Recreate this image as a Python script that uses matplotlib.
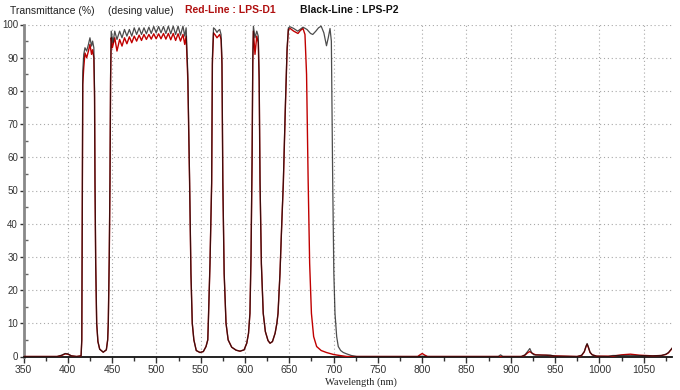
import numpy as np
import matplotlib
matplotlib.use("Agg")
import matplotlib.pyplot as plt
from matplotlib.ticker import MultipleLocator

# (wavelength nm, transmittance %)
black_pts = [
    (350, 0), (388, 0), (393, 0.4), (397, 0.9), (400, 0.8), (404, 0.2), (410, 0), (415, 0.2),
    (415.8, 5), (416.3, 45), (416.9, 86), (418, 91), (419.4, 93), (421.3, 92), (423.3, 94),
    (425, 96), (426.8, 93.5), (428, 95), (429.4, 93), (430.2, 80), (430.7, 53), (431.5, 28),
    (432.6, 10), (434, 4.5), (436, 2.2), (440, 1.3), (443.5, 2), (445, 5), (445.7, 10), (446.8, 30),
    (447.6, 53), (448.3, 85), (449, 98), (451, 94.5), (453, 98), (455.5, 95.5), (458.5, 98),
    (461.2, 96), (464, 98.5), (466.7, 96.5), (469.5, 98.5), (472.2, 96.5), (475, 99),
    (477.7, 97), (480.5, 99), (483.2, 97), (486, 99), (488.7, 97.2), (491.5, 99.2),
    (494.2, 97.3), (497, 99.4), (499.7, 97.5), (502.5, 99.4), (505.2, 97.5), (508, 99.4),
    (510.7, 97.3), (513.5, 99.5), (516.2, 97.2), (519, 99.5), (521.7, 97), (524.5, 99.5),
    (527.2, 96.8), (530, 99.5), (532, 96.5), (533.6, 99), (535.5, 85), (537.5, 53), (539, 25),
    (540.5, 10), (542.3, 5), (545, 1.8), (549.2, 1.2), (553, 1.5), (556, 3), (558, 5),
    (558.6, 10), (560.5, 28), (562.4, 53), (563.2, 90), (564.5, 99), (566.5, 98.5),
    (568.4, 97.6), (570, 98.2), (571.5, 98.5), (573, 97), (574, 90), (575, 53), (576.5, 25),
    (578.6, 10), (581, 5), (585, 2.8), (590, 1.9), (594.4, 1.6), (599, 2), (602, 4), (604, 7),
    (605.6, 13), (606.8, 30), (608, 60), (608.8, 90), (609.5, 99.5), (611.3, 96), (613.3, 98),
    (615, 96.5), (616, 85), (617, 53), (618.5, 28), (620.6, 13), (623, 7.5), (626, 4.8),
    (628.3, 4), (631, 4.5), (634, 7), (636, 10), (637.3, 13), (639.5, 25), (641.5, 40),
    (643.3, 53), (645.5, 75), (647.5, 93), (649, 99), (651, 99.3), (655, 98.8), (659.5, 98),
    (662.5, 98.6), (665.5, 99.2), (670, 98.5), (674, 97.3), (676.5, 97), (680, 98), (683, 99),
    (686, 99.5), (689, 97.5), (692, 93.6), (694, 96), (696, 98.8), (697.5, 95), (699, 53),
    (700.3, 25), (701.6, 13), (703.5, 6), (705.3, 3), (708, 1.8), (711, 1.2), (714.7, 0.8),
    (720, 0.3), (726, 0), (795, 0), (800, 0.1), (805, 0), (886, 0), (888.5, 0.5), (891, 0),
    (912, 0), (916, 0.5), (919, 1.5), (921.5, 2.4), (923.5, 1.2), (926, 0.5), (935, 0.4),
    (945, 0.4), (950, 0.1), (975, 0), (980, 0.4), (983, 1.5), (985, 3.2), (986.2, 3.9),
    (987.5, 3), (989.5, 1.3), (992, 0.5), (997, 0.1), (1010, 0), (1015, 0.3), (1040, 0.3),
    (1060, 0.2), (1070, 0.3), (1075, 0.7), (1078, 1.2), (1082, 2.5),
]

red_pts = [
    (350, 0), (388, 0), (393, 0.3), (397, 0.8), (400, 0.7), (404, 0.2), (410, 0), (415, 0.2),
    (415.8, 5), (416.3, 43), (416.9, 82), (418, 87), (419.4, 91.4), (421.3, 90), (423.3, 92),
    (425, 94), (426.8, 91), (428, 92.4), (429.4, 90), (430.2, 78), (430.7, 52), (431.5, 28),
    (432.6, 10), (434, 4.5), (436, 2.2), (440, 1.3), (443.5, 2), (445, 5), (445.7, 10), (446.8, 30),
    (447.6, 52), (448.3, 83), (449, 96), (450.3, 93), (453, 96), (455.5, 92), (458.5, 95.5),
    (461.2, 93.5), (464, 96), (466.7, 94.2), (469.5, 96.3), (472.2, 94.5), (475, 96.5),
    (477.7, 95), (480.5, 96.8), (483.2, 95.2), (486, 97), (488.7, 95.5), (491.5, 97),
    (494.2, 95.6), (497, 97.2), (499.7, 95.7), (502.5, 97.2), (505.2, 95.7), (508, 97.3),
    (510.7, 95.6), (513.5, 97.3), (516.2, 95.4), (519, 97.3), (521.7, 95.2), (524.5, 97.2),
    (527.2, 95), (530, 97), (532, 94), (533.6, 96.5), (535.5, 83), (537.5, 52), (539, 25),
    (540.5, 10), (542.3, 5), (545, 1.8), (549.2, 1.2), (553, 1.5), (556, 3), (558, 5),
    (558.6, 10), (560.5, 28), (562.4, 52), (563.2, 88), (564.5, 97.5), (566.5, 96.8),
    (568.4, 96), (570, 96.5), (571.5, 97), (573, 95.5), (574, 88), (575, 52), (576.5, 25),
    (578.6, 10), (581, 5), (585, 2.8), (590, 1.9), (594.4, 1.6), (599, 2), (602, 4), (604, 7),
    (605.6, 13), (606.8, 30), (608, 58), (608.8, 88), (609.5, 98), (611.3, 91), (613.3, 96.5),
    (615, 94.5), (616, 83), (617, 52), (618.5, 28), (620.6, 13), (623, 7.5), (626, 4.8),
    (628.3, 4), (631, 4.5), (634, 7), (636, 10), (637.3, 13), (639.5, 25), (641.5, 40),
    (643.3, 52), (645.5, 74), (647.5, 92), (649, 98.5), (651, 98.8), (655, 98), (659.8, 97.3),
    (662.5, 98.2), (665.5, 98.8), (667.7, 97), (669.5, 85), (671.3, 53), (673, 28), (675, 13),
    (677.5, 6), (680.9, 3), (686, 1.8), (692, 1.2), (700, 0.6), (707, 0.3), (715, 0),
    (795, 0), (797, 0.4), (800, 0.9), (803, 0.4), (806, 0), (912, 0), (916, 0.4), (919, 1.1),
    (921.5, 1.5), (924, 1), (928, 0.5), (940, 0.4), (948, 0.2), (975, 0), (980, 0.3),
    (983, 1.4), (985, 3), (986.2, 3.7), (987.5, 2.8), (989.5, 1.2), (992, 0.5), (997, 0.1),
    (1015, 0.1), (1025, 0.5), (1035, 0.7), (1045, 0.4), (1060, 0.2), (1070, 0.3), (1075, 0.6),
    (1078, 1.1), (1082, 2.4),
]

x_ticks = list(range(350, 1051, 50))
y_ticks = list(range(0, 101, 10))

bw, bt = zip(*black_pts)
rw, rt = zip(*red_pts)

plt.rcParams['font.family'] = ['Liberation Sans', 'DejaVu Sans']

fig = plt.figure(figsize=(6.8, 3.9), dpi=100)
ax = fig.add_axes([23.5 / 680, 33.5 / 390, (672 - 23.5) / 680, (356.5 - 24.5) / 390])

ax.plot(rw, rt, color='#c00000', lw=1.0, zorder=3)
ax.plot(bw, bt, color='#111111', lw=0.9, alpha=0.75, zorder=4)

ax.set_xlim(350, 1082)
ax.set_ylim(0, 100)
ax.set_xticks(x_ticks)
ax.set_yticks(y_ticks)
ax.xaxis.set_minor_locator(MultipleLocator(25))
ax.yaxis.set_minor_locator(MultipleLocator(5))
ax.tick_params(axis='x', which='major', labelsize=7.5, length=4, width=1,
               direction='out', colors='#333333', pad=2)
ax.tick_params(axis='y', which='major', labelsize=7, length=3, width=1,
               direction='out', colors='#333333', pad=1)
ax.tick_params(axis='x', which='minor', length=3, width=1, direction='out', color='#333333')
ax.tick_params(axis='y', which='minor', length=3, width=1, direction='in', color='#666666')

ax.grid(True, which='major', color='#a8a8a8', linestyle=(0, (1, 2.5)), lw=0.8)
for s in ['top', 'right']:
    ax.spines[s].set_visible(False)
ax.spines['left'].set_color('#888888')
ax.spines['left'].set_linewidth(2)
ax.spines['bottom'].set_color('#111111')
ax.spines['bottom'].set_linewidth(1.3)
ax.set_axisbelow(True)

fig.text(10 / 680, 1 - 11 / 390, 'Transmittance (%)', fontsize=7.5, va='center', color='#222222')
fig.text(108 / 680, 1 - 11 / 390, '(desing value)', fontsize=7.5, va='center', color='#222222')
fig.text(185 / 680, 1 - 10 / 390, 'Red-Line : LPS-D1', fontsize=7.5, va='center',
         color='#b01010', fontweight='bold')
fig.text(300 / 680, 1 - 10 / 390, 'Black-Line : LPS-P2', fontsize=7.5, va='center',
         color='#111111', fontweight='bold')
fig.text(325 / 680, 1 - 382 / 390, 'Wavelength (nm)', fontsize=7.5, va='center',
         family='Liberation Serif', color='#222222')

fig.savefig('out.png', dpi=100)
